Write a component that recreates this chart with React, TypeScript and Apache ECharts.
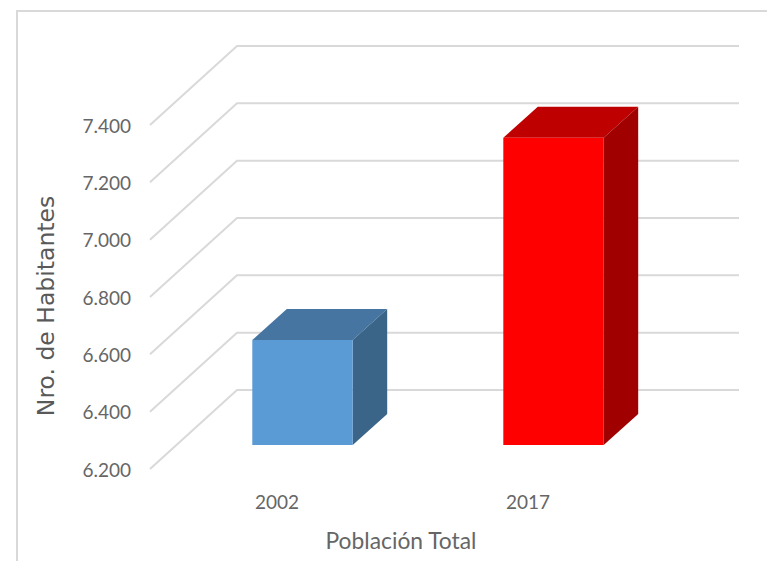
import React, { useEffect, useRef } from "react";
import * as echarts from "echarts";

const categories = ["2002", "2017"];
const populationValues = [6566, 7272];
const tickValues = [6200, 6400, 6600, 6800, 7000, 7200, 7400];
const frontColors = ["#5B9BD5", "#FF0000"];
const topColors = ["#4675A2", "#BF0000"];
const sideColors = ["#3A6488", "#A00000"];

const WALL_DX = 87;
const WALL_DY = -79;
const BAR_DX = 27;
const BAR_DY = -24;
const DEPTH_DX = 34.5;
const DEPTH_DY = -31;
const LABEL_FONT = "Lato, sans-serif";

export default function App() {
  const ref = useRef<HTMLDivElement>(null);
  useEffect(() => {
    const chart = echarts.init(ref.current!, undefined, { renderer: "svg" });
    chart.setOption({
      animation: false,
      backgroundColor: "#FFFFFF",
      textStyle: { fontFamily: LABEL_FONT },
      grid: { left: 150, top: 125, width: 502, height: 344, containLabel: false },
      graphic: [
        {
          type: "polyline",
          silent: true,
          shape: { points: [[17, 561], [17, 11], [767, 11]] },
          style: { stroke: "#D9D9D9", lineWidth: 2, fill: "none" },
        },
      ],
      xAxis: {
        type: "category",
        data: categories,
        axisLine: { show: false },
        axisTick: { show: false },
        axisLabel: { color: "#666666", fontSize: 19, margin: 23, padding: [0, 0, 0, 3], fontFamily: LABEL_FONT },
        name: "Población Total",
        nameLocation: "middle",
        nameGap: 59,
        nameTextStyle: { color: "#666666", fontSize: 22.8, fontFamily: LABEL_FONT },
      },
      yAxis: {
        type: "value",
        min: 6200,
        max: 7400,
        interval: 200,
        splitLine: { show: false },
        axisLine: { show: false },
        axisTick: { show: false },
        axisLabel: {
          color: "#666666",
          fontSize: 19,
          margin: 19,
          fontFamily: LABEL_FONT,
          formatter: (v: number) => String(v).replace(/(\d)(\d{3})$/, "$1.$2"),
        },
        name: "Nro. de Habitantes",
        nameLocation: "middle",
        nameGap: 92,
        nameRotate: 90,
        nameTextStyle: {
          color: "#595959",
          fontSize: 23.5,
          padding: [0, 18, 0, 0],
          fontFamily: '"DejaVu Sans", sans-serif',
        },
      },
      series: [
        {
          type: "custom",
          clip: false,
          silent: true,
          z: 1,
          data: tickValues.map((v) => [0, v]),
          encode: { x: 0, y: 1 },
          renderItem: (params: any, api: any) => {
            const y = api.coord([0, api.value(1)])[1];
            const left = params.coordSys.x;
            const right = left + params.coordSys.width + WALL_DX;
            return {
              type: "polyline",
              shape: { points: [[left, y], [left + WALL_DX, y + WALL_DY], [right, y + WALL_DY]] },
              style: { stroke: "#D9D9D9", lineWidth: 2, fill: "none" },
            };
          },
        },
        {
          type: "custom",
          clip: false,
          silent: true,
          z: 2,
          data: populationValues.map((v, i) => [i, v]),
          encode: { x: 0, y: 1 },
          renderItem: (_params: any, api: any) => {
            const i = api.value(0);
            const [cx, topY] = api.coord([i, api.value(1)]);
            const baseY = api.coord([i, tickValues[0]])[1];
            const w = api.size([1, 0])[0] * 0.4;
            const l = cx + BAR_DX - w / 2;
            const r = l + w;
            const t = topY + BAR_DY;
            const b = baseY + BAR_DY;
            return {
              type: "group",
              children: [
                {
                  type: "polygon",
                  shape: { points: [[l, t], [l + DEPTH_DX, t + DEPTH_DY], [r + DEPTH_DX, t + DEPTH_DY], [r, t]] },
                  style: { fill: topColors[i] },
                },
                {
                  type: "polygon",
                  shape: { points: [[r, t], [r + DEPTH_DX, t + DEPTH_DY], [r + DEPTH_DX, b + DEPTH_DY], [r, b]] },
                  style: { fill: sideColors[i] },
                },
                {
                  type: "rect",
                  shape: { x: l, y: t, width: w, height: b - t },
                  style: { fill: frontColors[i] },
                },
              ],
            };
          },
        },
      ],
    });
    return () => chart.dispose();
  }, []);
  return <div ref={ref} style={{ position: "absolute", left: 0, top: 0, width: 767, height: 561 }} />;
}
